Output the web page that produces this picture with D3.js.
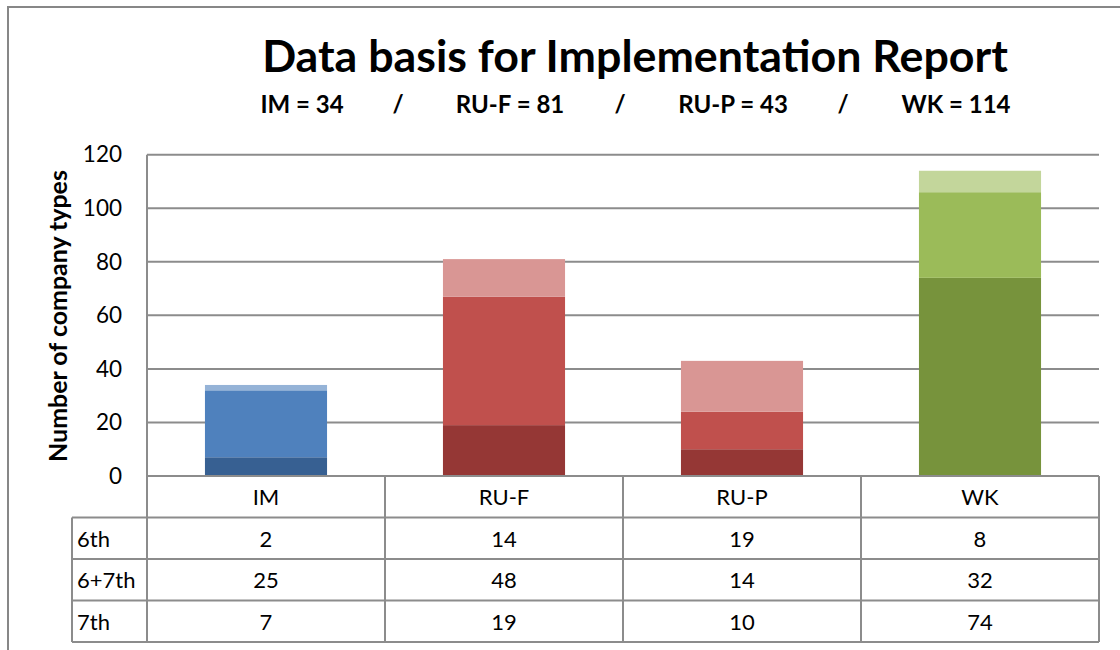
<!DOCTYPE html>
<html><head><meta charset="utf-8">
<script src="https://cdn.jsdelivr.net/npm/d3@7"></script>
<style>
body{margin:0;background:#fff;}
svg{display:block;font-family:Lato,"Open Sans",sans-serif;}
</style>
</head><body>
<svg id="c" width="1120" height="650"></svg>
<script>
// ---- data ----
const categories = ["IM", "RU-F", "RU-P", "WK"];
const rowLabels = ["6th", "6+7th", "7th"];
const sixth = [2, 14, 19, 8];
const sixSeventh = [25, 48, 14, 32];
const seventh = [7, 19, 10, 74];
const yTicks = [0, 20, 40, 60, 80, 100, 120];
const title = "Data basis for Implementation Report";
const yTitle = "Number of company types";

// colours per category: [6th, 6+7th, 7th]
const blues = ["#95B3D7", "#4F81BD", "#376092"];
const reds = ["#D99694", "#C0504D", "#953735"];
const greens = ["#C3D69B", "#9BBB59", "#77933C"];
const catColors = [blues, reds, reds, greens];

const rows = categories.map((c, i) => ({cat: c, "6th": sixth[i], "6+7th": sixSeventh[i], "7th": seventh[i]}));
const tableValues = [sixth, sixSeventh, seventh];

const svg = d3.select("#c");
const L = 147, R = 1099, B = 476, T = 154.7;
const rowH = 41.5;
const labelLeft = 72;
const gridColor = "#8c8c8c";

const x = d3.scaleBand().domain(categories).range([L, R]).padding(0);
const y = d3.scaleLinear().domain([0, 120]).range([B, T]);
const barW = x.bandwidth() * 0.513;

function fit(sel, target) {
  const n = sel.node();
  const fs = parseFloat(sel.attr("font-size"));
  const len = n.getComputedTextLength();
  sel.attr("font-size", fs * target / len);
}

// outer frame
svg.append("path").attr("d", `M8,651 V7 H1121`).attr("fill", "none")
  .attr("stroke", "#878787").attr("stroke-width", 2);

// gridlines
svg.append("g").selectAll("line").data(yTicks.filter(d => d > 0)).join("line")
  .attr("x1", L).attr("x2", R).attr("y1", d => y(d)).attr("y2", d => y(d))
  .attr("stroke", gridColor).attr("stroke-width", 2);

// stacked bars
const stack = d3.stack().keys(["7th", "6+7th", "6th"]);
const layers = stack(rows);
const colorIdx = {"6th": 0, "6+7th": 1, "7th": 2};
layers.forEach(layer => {
  svg.append("g").selectAll("rect").data(layer).join("rect")
    .attr("x", d => x(d.data.cat) + (x.bandwidth() - barW) / 2)
    .attr("width", barW)
    .attr("y", d => y(d[1]))
    .attr("height", d => y(d[0]) - y(d[1]))
    .attr("fill", (d, i) => catColors[i][colorIdx[layer.key]]);
});

// y axis
const yAxis = d3.axisLeft(y).tickValues(yTicks).tickSize(0).tickPadding(25);
const ga = svg.append("g").attr("transform", `translate(${L},0)`).call(yAxis);
ga.select(".domain").remove();
ga.selectAll("text").attr("font-size", 22.5).attr("font-family", "Lato, sans-serif").attr("fill", "#000");

// table lines
const tg = svg.append("g").attr("stroke", gridColor).attr("stroke-width", 2);
tg.append("line").attr("x1", L).attr("x2", L).attr("y1", T).attr("y2", B + rowH * 4);
tg.append("line").attr("x1", L).attr("x2", R).attr("y1", B).attr("y2", B);
[1, 2, 3, 4].forEach(k => {
  tg.append("line").attr("x1", labelLeft).attr("x2", R).attr("y1", B + rowH * k).attr("y2", B + rowH * k);
});
tg.append("line").attr("x1", labelLeft).attr("x2", labelLeft).attr("y1", B + rowH).attr("y2", B + rowH * 4);
categories.forEach(c => {
  const xr = x(c) + x.bandwidth();
  tg.append("line").attr("x1", xr).attr("x2", xr).attr("y1", B).attr("y2", B + rowH * 4);
});

// table header
const tableFs = 22;
svg.append("g").selectAll("text").data(categories).join("text")
  .attr("x", d => x(d) + x.bandwidth() / 2).attr("y", B + rowH / 2)
  .attr("text-anchor", "middle").attr("dominant-baseline", "central")
  .attr("font-size", tableFs).text(d => d);

// row labels and values
rowLabels.forEach((lab, r) => {
  const cy = B + rowH * (r + 1) + rowH / 2;
  svg.append("text").attr("x", labelLeft + 5).attr("y", cy)
    .attr("dominant-baseline", "central").attr("font-size", tableFs).text(lab);
  svg.append("g").selectAll("text").data(tableValues[r]).join("text")
    .attr("x", (d, i) => x(categories[i]) + x.bandwidth() / 2).attr("y", cy)
    .attr("text-anchor", "middle").attr("dominant-baseline", "central")
    .attr("font-size", tableFs).text(d => d);
});

// title
const tt = svg.append("text").attr("x", 635).attr("y", 72).attr("text-anchor", "middle")
  .attr("font-weight", "bold").attr("font-size", 38).text(title);
fit(tt, 746);

// subtitle
const totals = categories.map((c, i) => sixth[i] + sixSeventh[i] + seventh[i]);
const subCenters = [302, 510, 733, 956];
const slashCenters = [398, 620, 843];
const subFs = 24;
const sub = svg.append("g").attr("font-weight", "bold").attr("font-size", subFs);
categories.forEach((c, i) => {
  sub.append("text").attr("x", subCenters[i]).attr("y", 113).attr("text-anchor", "middle")
    .text(`${c} = ${totals[i]}`);
});
slashCenters.forEach(cx => {
  sub.append("text").attr("x", cx).attr("y", 113).attr("text-anchor", "middle").text("/");
});

// y title
const yt = svg.append("text").attr("transform", "translate(67,316) rotate(-90)")
  .attr("text-anchor", "middle").attr("font-weight", "bold").attr("font-size", 21).text(yTitle);
fit(yt, 292);
</script>
</body></html>
